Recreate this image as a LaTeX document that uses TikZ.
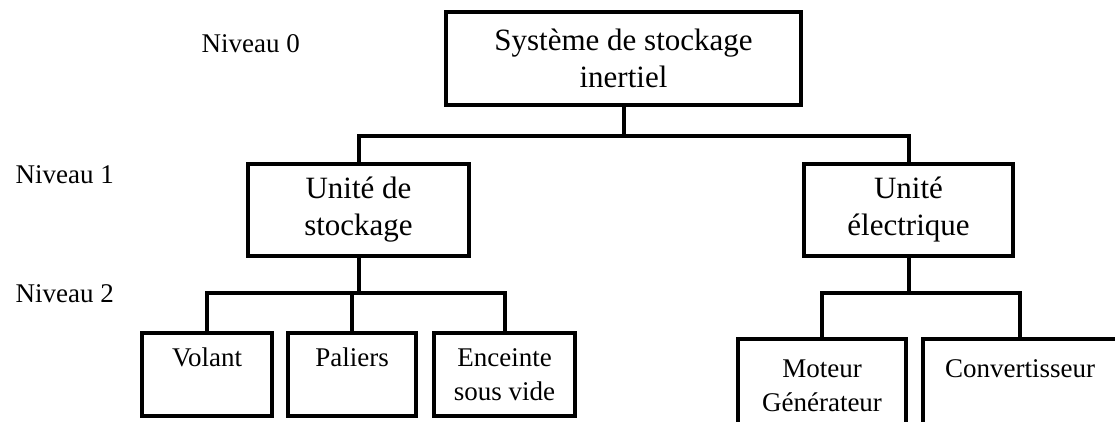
\documentclass[tikz,border=0pt]{standalone}
\usepackage{fontspec}
\setmainfont{Liberation Serif}
\usepackage{tikz}
\usetikzlibrary{positioning}

\begin{document}
\begin{tikzpicture}[
      x=1pt,y=-1pt,
      unit/.style={draw,line width=4pt,align=center,inner sep=0pt,
                   font=\fontsize{31}{37}\selectfont},
      part/.style={draw,line width=4pt,align=center,inner sep=0pt,
                   font=\fontsize{27}{34}\selectfont},
      level/.style={anchor=base west,font=\fontsize{27}{34}\selectfont},
      link/.style={line width=4pt},
    ]
    \clip (0,0) rectangle (1115,421);

    % Level labels
    \node[level] (n0) at (198,52)  {Niveau 0};
    \node[level] (n1) at (12,183)  {Niveau 1};
    \node[level] (n2) at (12,302)  {Niveau 2};

    % Level 0 and 1
    \node[unit,minimum width=355,minimum height=93] (sys) at (623.5,58.5)
      {Système de stockage\\inertiel};
    \node[unit,minimum width=221,minimum height=92] (stock) at (358.5,210)
      {Unité de\\stockage};
    \node[unit,minimum width=209,minimum height=92] (elec) at (908.5,210)
      {Unité\\électrique};

    % Level 2
    \node[part,minimum width=130,minimum height=83] (volant) at (207,374.5)
      {Volant\\~};
    \node[part,minimum width=128,minimum height=83] (paliers) at (352,374.5)
      {Paliers\\~};
    \node[part,minimum width=141,minimum height=83] (enceinte) at (504.5,374.5)
      {Enceinte\\sous vide};
    \node[part,minimum width=168,minimum height=93] (moteur) at (822,385.5)
      {Moteur\\Générateur};
    \node[part,minimum width=194,minimum height=93] (conv) at (1020,385.5)
      {Convertisseur\\~};

    % Connectors
    \foreach \t in {stock,elec}
      \draw[link] (sys.south) -- ++(0,29) -| (\t.north);
    \foreach \t in {volant,paliers,enceinte}
      \draw[link] (stock.south) -- ++(0,35) -| (\t.north);
    \foreach \t in {moteur,conv}
      \draw[link] (elec.south) -- ++(0,35) -| (\t.north);

  \end{tikzpicture}
\end{document}
